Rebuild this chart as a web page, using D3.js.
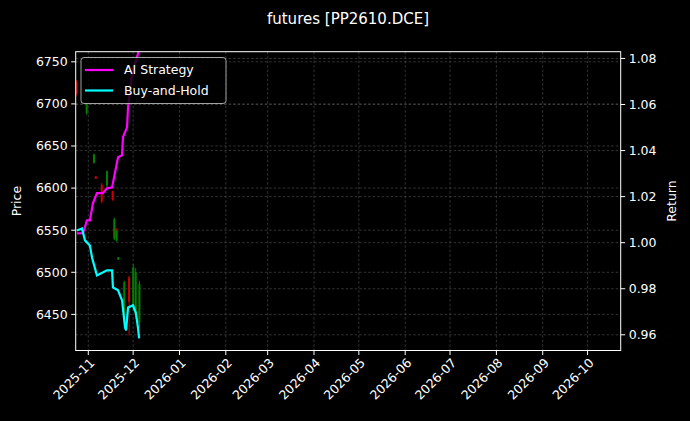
<!DOCTYPE html>
<html><head><meta charset="utf-8">
<script src="https://cdn.jsdelivr.net/npm/d3@7"></script>
<style>body{margin:0;background:#000}svg{display:block;font-family:"DejaVu Sans",sans-serif}</style>
</head><body><svg id="c" width="690" height="421"></svg>
<script>
const candleDates=["2025-10-24T05:00","2025-10-30T22:00","2025-11-04T19:00","2025-11-06T00:00","2025-11-10T00:00","2025-11-13T12:00","2025-11-17T07:00","2025-11-18T10:00","2025-11-19T10:00","2025-11-20T00:00","2025-11-21T02:00","2025-11-25T02:00","2025-11-28T07:00","2025-12-01T02:00","2025-12-02T17:00","2025-12-05T05:00"];
const openP =[6726,6689,6630,6614,6604,6603,6596,6540,6552,6538,6515,6446,6494,6458,6450,6440];
const closeP=[6712,6700,6640,6611,6584,6620,6586,6563,6543,6549,6518,6488,6465,6506,6500,6486];
const highP =[6728,6701,6641,6614,6606,6621,6597,6565,6553,6550,6518,6490,6496,6510,6505,6490];
const lowP  =[6710,6687,6629,6611,6582,6601,6585,6538,6541,6536,6515,6442,6425,6454,6445,6434];
const aiDates=["2025-10-24T10:00","2025-10-28T12:00","2025-10-31T02:00","2025-11-02T02:00","2025-11-04T02:00","2025-11-06T19:00","2025-11-10T19:00","2025-11-13T12:00","2025-11-16T22:00","2025-11-18T22:00","2025-11-20T22:00","2025-11-23T14:00","2025-11-24T05:00","2025-11-26T22:00","2025-11-27T14:00","2025-11-30T07:00","2025-12-05T00:00"];
const aiRet=[1.004,1.0041,1.0097,1.0097,1.0171,1.0215,1.0215,1.0236,1.024,1.0306,1.0371,1.038,1.0458,1.0501,1.0588,1.0736,1.0836];
const bhDates=["2025-10-24T10:00","2025-10-27T19:00","2025-10-29T19:00","2025-11-02T02:00","2025-11-03T12:00","2025-11-06T19:00","2025-11-13T12:00","2025-11-16T22:00","2025-11-17T12:00","2025-11-20T22:00","2025-11-23T14:00","2025-11-25T14:00","2025-11-26T07:00","2025-11-27T14:00","2025-11-30T22:00","2025-12-02T22:00","2025-12-04T07:00","2025-12-05T00:00"];
const bhRet=[1.0053,1.0062,1.001,0.9988,0.9936,0.9858,0.988,0.988,0.9806,0.9793,0.975,0.9632,0.9619,0.9719,0.9728,0.9693,0.9628,0.9584];
const priceTicks=[6450,6500,6550,6600,6650,6700,6750];
const retTicks=[0.96,0.98,1.00,1.02,1.04,1.06,1.08];
const monthTicks=["2025-11","2025-12","2026-01","2026-02","2026-03","2026-04","2026-05","2026-06","2026-07","2026-08","2026-09","2026-10"];

const svg=d3.select("#c");
const L=75.7,R=620.7,T=51.7,B=350.5;
const parse=s=>new Date(s);
const x=d3.scaleTime().domain([parse("2025-10-23T14:00"),parse("2026-10-23T04:00")]).range([L,R]);
const yP=d3.scaleLinear().domain([6407.1,6762]).range([B,T]);
const yR=d3.scaleLinear().domain([0.95318,1.08293]).range([B,T]);
const mt=monthTicks.map(m=>parse(m+"-01T00:00"));
const FS=12.5;

const grid=svg.append("g").attr("stroke","#555").attr("stroke-width",0.6).attr("stroke-dasharray","2.5,2");
mt.forEach(d=>grid.append("line").attr("x1",x(d)).attr("x2",x(d)).attr("y1",T).attr("y2",B));
priceTicks.forEach(v=>grid.append("line").attr("x1",L).attr("x2",R).attr("y1",yP(v)).attr("y2",yP(v)));
retTicks.forEach(v=>grid.append("line").attr("x1",L).attr("x2",R).attr("y1",yR(v)).attr("y2",yR(v)));

svg.append("clipPath").attr("id","cl").append("rect").attr("x",L).attr("y",T).attr("width",R-L).attr("height",B-T);
const plot=svg.append("g").attr("clip-path","url(#cl)");
candleDates.forEach((d,i)=>{
  const col=closeP[i]>=openP[i]?"#008000":"#d00000";
  const cx=x(parse(d));
  plot.append("line").attr("x1",cx).attr("x2",cx).attr("y1",yP(highP[i])).attr("y2",yP(lowP[i])).attr("stroke",col).attr("stroke-width",1);
  const top=yP(Math.max(openP[i],closeP[i])),bot=yP(Math.min(openP[i],closeP[i]));
  plot.append("rect").attr("x",cx-1).attr("width",2).attr("y",top).attr("height",Math.max(1,bot-top)).attr("fill",col);
});
const line=d3.line().x(d=>x(d[0])).y(d=>yR(d[1]));
plot.append("path").datum(aiDates.map((d,i)=>[parse(d),aiRet[i]])).attr("d",line).attr("fill","none").attr("stroke","#ff00ff").attr("stroke-width",2.2);
plot.append("path").datum(bhDates.map((d,i)=>[parse(d),bhRet[i]])).attr("d",line).attr("fill","none").attr("stroke","#00ffff").attr("stroke-width",2.2);

svg.append("rect").attr("x",L).attr("y",T).attr("width",R-L).attr("height",B-T).attr("fill","none").attr("stroke","#fff").attr("stroke-width",1);

const ax=svg.append("g").attr("fill","#fff").attr("font-size",FS);
priceTicks.forEach(v=>{const y=yP(v);
  ax.append("line").attr("x1",L-4.5).attr("x2",L).attr("y1",y).attr("y2",y).attr("stroke","#fff");
  ax.append("text").attr("x",L-8).attr("y",y).attr("dy","0.35em").attr("text-anchor","end").text(v);});
retTicks.forEach(v=>{const y=yR(v);
  ax.append("line").attr("x1",R).attr("x2",R+4.5).attr("y1",y).attr("y2",y).attr("stroke","#fff");
  ax.append("text").attr("x",R+8).attr("y",y).attr("dy","0.35em").text(v.toFixed(2));});
mt.forEach((d,i)=>{const xx=x(d);
  ax.append("line").attr("x1",xx).attr("x2",xx).attr("y1",B).attr("y2",B+4.5).attr("stroke","#fff");
  ax.append("text").attr("transform",`translate(${xx+4},${B+10}) rotate(-45)`).attr("text-anchor","end").attr("dy","0.35em").text(monthTicks[i]);});
ax.append("text").attr("transform",`translate(21,${(T+B)/2}) rotate(-90)`).attr("text-anchor","middle").text("Price");
ax.append("text").attr("transform",`translate(676,${(T+B)/2}) rotate(-90)`).attr("text-anchor","middle").text("Return");
svg.append("text").attr("x",348).attr("y",24).attr("text-anchor","middle").attr("fill","#fff").attr("font-size",15).text("futures [PP2610.DCE]");

const lg=svg.append("g");
lg.append("rect").attr("x",81).attr("y",57.5).attr("width",145).attr("height",46).attr("rx",3).attr("fill","#000").attr("fill-opacity",0.8).attr("stroke","#ccc").attr("stroke-width",0.8);
[["AI Strategy","#ff00ff"],["Buy-and-Hold","#00ffff"]].forEach(([t,c],i)=>{const y=70+i*20.5;
  lg.append("line").attr("x1",85).attr("x2",113).attr("y1",y).attr("y2",y).attr("stroke",c).attr("stroke-width",2.2);
  lg.append("text").attr("x",124).attr("y",y).attr("dy","0.35em").attr("fill","#fff").attr("font-size",FS).text(t);});
</script></body></html>
